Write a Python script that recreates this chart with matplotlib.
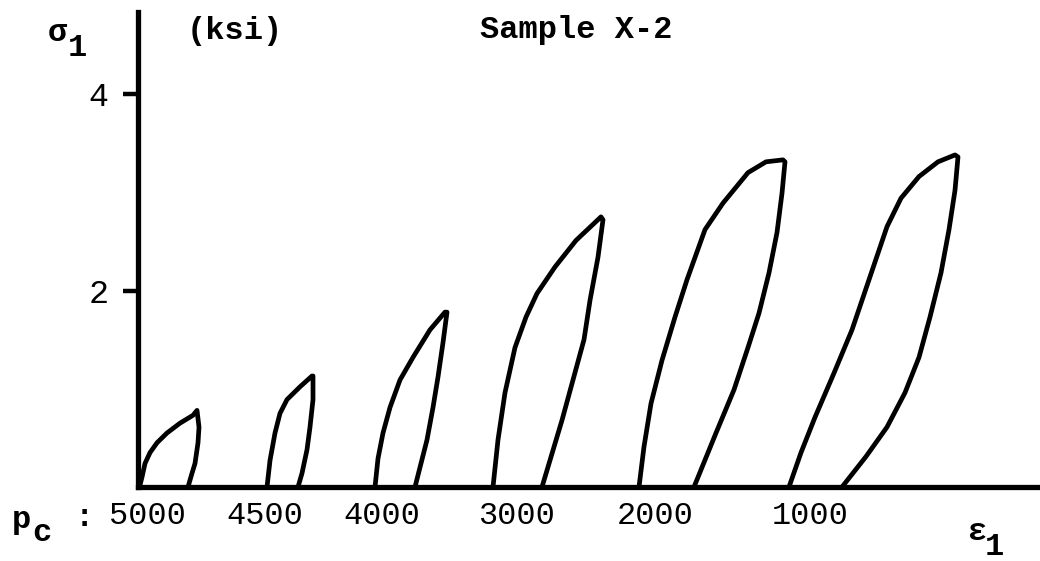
import matplotlib.pyplot as plt

# confining pressure for each loop
pc_labels = ["5000", "4500", "4000", "3000", "2000", "1000"]
# label centre along strain axis
pc_label_x = [0.09, 1.27, 2.44, 3.79, 5.17, 6.72]

# loading branches (strain, arbitrary units ; stress sigma_1, ksi)
load_x = [
    [0.02, 0.02, 0.04, 0.07, 0.12, 0.19, 0.29, 0.42, 0.55, 0.59],
    [1.29, 1.32, 1.37, 1.42, 1.49, 1.62, 1.74],
    [2.37, 2.40, 2.45, 2.52, 2.62, 2.75, 2.92, 3.07],
    [3.55, 3.60, 3.67, 3.77, 3.88, 3.99, 4.17, 4.38, 4.63],
    [5.01, 5.06, 5.13, 5.24, 5.37, 5.49, 5.67, 5.85, 6.10, 6.28, 6.45],
    [6.51, 6.63, 6.77, 6.96, 7.14, 7.31, 7.49, 7.63, 7.81, 8.00, 8.17],
]
load_y = [
    [0.0, 0.02, 0.10, 0.24, 0.35, 0.45, 0.55, 0.65, 0.73, 0.78],
    [0.0, 0.27, 0.55, 0.75, 0.89, 1.02, 1.13],
    [0.0, 0.29, 0.55, 0.81, 1.09, 1.32, 1.60, 1.78],
    [0.0, 0.48, 0.96, 1.42, 1.73, 1.97, 2.24, 2.51, 2.75],
    [0.0, 0.41, 0.85, 1.29, 1.73, 2.11, 2.62, 2.89, 3.20, 3.31, 3.33],
    [0.0, 0.35, 0.71, 1.16, 1.60, 2.11, 2.65, 2.94, 3.16, 3.31, 3.38],
]
# unloading branches
unload_x = [
    [0.59, 0.61, 0.60, 0.57, 0.54, 0.50],
    [1.74, 1.75, 1.75, 1.72, 1.69, 1.64, 1.60],
    [3.07, 3.09, 3.05, 3.00, 2.95, 2.89, 2.82, 2.77],
    [4.63, 4.65, 4.60, 4.52, 4.46, 4.35, 4.24, 4.04],
    [6.45, 6.47, 6.44, 6.39, 6.31, 6.21, 6.10, 5.96, 5.78, 5.56],
    [8.17, 8.20, 8.17, 8.11, 8.03, 7.92, 7.81, 7.67, 7.49, 7.28, 7.04],
]
unload_y = [
    [0.78, 0.61, 0.45, 0.24, 0.14, 0.0],
    [1.13, 1.13, 0.89, 0.61, 0.38, 0.14, 0.0],
    [1.78, 1.78, 1.47, 1.12, 0.81, 0.48, 0.20, 0.0],
    [2.75, 2.72, 2.34, 1.90, 1.50, 1.09, 0.68, 0.0],
    [3.33, 3.31, 2.99, 2.59, 2.18, 1.77, 1.42, 0.99, 0.55, 0.0],
    [3.38, 3.36, 3.02, 2.62, 2.18, 1.73, 1.32, 0.96, 0.61, 0.31, 0.0],
]
yticks = [2, 4]

font = "Liberation Mono"
fs = 23
fw = "bold"

fig = plt.figure(figsize=(10.4, 5.61), dpi=100)
ax = fig.add_axes([0.1327, 0.1319, 0.8673, 0.8467])

for i in range(len(load_x)):
    ax.plot(load_x[i] + unload_x[i], load_y[i] + unload_y[i], color="black",
            lw=3.4, solid_joinstyle="round", solid_capstyle="round")

ax.set_xlim(0, 9.02)
ax.set_ylim(0, 4.835)
for s in ["top", "right"]:
    ax.spines[s].set_visible(False)
for s in ["left", "bottom"]:
    ax.spines[s].set_linewidth(3.8)
ax.set_xticks([])
ax.set_yticks(yticks)
ax.set_yticklabels([str(t) for t in yticks], fontfamily=font, fontsize=24)
ax.tick_params(axis="y", direction="out", length=11, width=3.2, pad=10)

# pressure labels under each loop
for lab, xl in zip(pc_labels, pc_label_x):
    ax.text(xl, -0.30, lab, ha="center", va="center", fontfamily=font,
            fontsize=fs, clip_on=False)

def ftext(x, y, s, **kw):
    fig.text(x / 1040, 1 - y / 561, s, fontfamily=font, fontsize=fs,
             ha="center", va="center", **kw)

ftext(21, 520, "p", fontweight=fw)
ftext(42, 533, "c", fontweight=fw)
ftext(84, 518, ":", fontweight=fw)
ftext(57, 33, "σ", fontweight=fw)
ftext(77, 48, "1", fontweight=fw)
ftext(235, 31, "(ksi)", fontweight=fw)
ftext(576, 30, "Sample X-2", fontweight=fw)
ftext(978, 532, "ε", fontweight=fw)
ftext(994, 547, "1", fontweight=fw)

fig.savefig("out.png", dpi=100)
